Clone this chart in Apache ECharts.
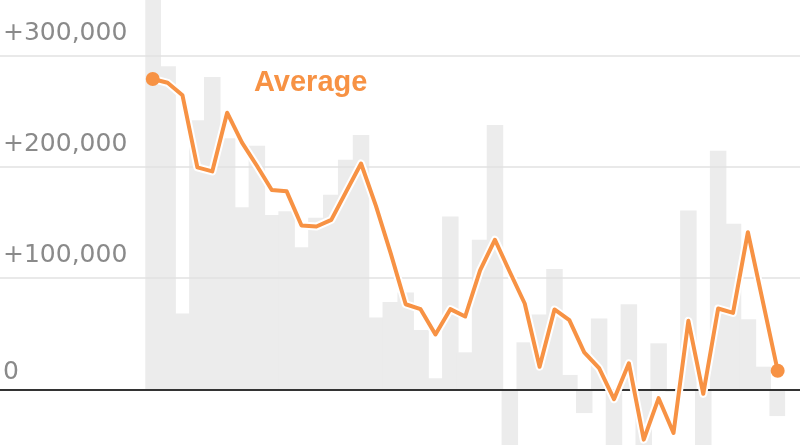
<!DOCTYPE html>
<html>
<head>
<meta charset="utf-8">
<script src="https://cdn.jsdelivr.net/npm/echarts@6/dist/echarts.min.js"></script>
<style>
  html, body { margin: 0; padding: 0; background: #fff; }
  #chart { width: 800px; height: 445px; }
</style>
</head>
<body>
<div id="chart"></div>
<script>
// one category per bar / line point (no x labels are printed)
var categories = ['1', '2', '3', '4', '5', '6', '7', '8', '9', '10', '11', '12', '13', '14', '15',
  '16', '17', '18', '19', '20', '21', '22', '23', '24', '25', '26', '27', '28', '29', '30',
  '31', '32', '33', '34', '35', '36', '37', '38', '39', '40', '41', '42', '43'];

// gray bars
var barValues = [365000, 290500, 68200, 241900, 280700, 225800, 163700, 218900, 156800, 160100,
  127800, 154200, 175000, 206400, 228700, 64600, 78600, 87000, 53300, 10000,
  155300, 33300, 134500, 237700, -62000, 42300, 67300, 108200, 13000, -21300,
  63700, -70000, 76500, -60000, 41400, -2000, 160700, -66000, 214400, 148800,
  63100, 20400, -24000];

// orange "Average" line
var avgValues = [279000, 275600, 264300, 199500, 195900, 248700, 221800, 201000, 179200, 178000,
  147300, 146400, 152400, 177700, 203000, 165000, 122000, 76500, 72100, 49400,
  72100, 65500, 107000, 134500, 105500, 77200, 20400, 71800, 62200, 33300,
  19000, -8800, 23500, -45200, -7900, -39200, 61600, -4000, 72700, 68800,
  141300, 79200, 16800];

// y tick labels
var tickValues = [0, 100000, 200000, 300000];
var tickLabels = ['0', '+100,000', '+200,000', '+300,000'];

var orange = '#f79244';

(function() {
  var myChart = echarts.init(document.getElementById('chart'));

  var last = avgValues.length - 1;

  var option = {
    animation: false,
    backgroundColor: '#fff',
    grid: [
      // full width grid: grid lines, labels, zero line
      { left: 0, right: 0, top: 0, bottom: 0 },
      // bars and line
      { left: 145.3, right: 14.9, top: 0, bottom: 0 }
    ],
    xAxis: [
      {
        gridIndex: 0,
        type: 'value',
        min: 0,
        max: 1,
        z: 4,
        axisLine: { show: true, onZero: true, lineStyle: { color: '#333', width: 2 } },
        axisTick: { show: false },
        axisLabel: { show: false },
        splitLine: { show: false }
      },
      {
        gridIndex: 1,
        type: 'category',
        data: categories,
        show: false
      }
    ],
    yAxis: [
      {
        gridIndex: 0,
        type: 'value',
        min: -50000,
        max: 350000,
        interval: 50000,
        z: 3,
        axisLine: { show: false },
        axisTick: { show: false },
        // only every second split line (the 100,000 steps) is visible
        splitLine: { lineStyle: { color: ['rgba(0,0,0,0)', '#e2e2e2'], width: 1.5 } },
        axisLabel: {
          inside: true,
          margin: 3,
          color: '#8a8a8a',
          fontSize: 25,
          fontFamily: 'DejaVu Sans',
          verticalAlign: 'bottom',
          lineHeight: 45,
          formatter: function(v) {
            var k = tickValues.indexOf(v);
            if (k < 0) return '';
            if (v === 0) return '{z|' + tickLabels[k] + '}';
            return tickLabels[k];
          },
          rich: {
            z: { lineHeight: 33, fontSize: 25, color: '#8a8a8a', fontFamily: 'DejaVu Sans' }
          }
        }
      },
      {
        gridIndex: 1,
        type: 'value',
        min: -50000,
        max: 350000,
        interval: 50000,
        show: false
      }
    ],
    series: [
      {
        type: 'bar',
        xAxisIndex: 1,
        yAxisIndex: 1,
        data: barValues,
        barWidth: 16.5,
        silent: true,
        z: 1,
        itemStyle: { color: '#ececec' }
      },
      {
        // white halo under the line
        type: 'line',
        xAxisIndex: 1,
        yAxisIndex: 1,
        data: avgValues,
        symbol: 'none',
        silent: true,
        z: 5,
        lineStyle: { color: '#fff', width: 8, join: 'round' }
      },
      {
        type: 'line',
        xAxisIndex: 1,
        yAxisIndex: 1,
        data: avgValues,
        symbol: 'none',
        silent: true,
        z: 6,
        lineStyle: { color: orange, width: 4, join: 'round' }
      },
      {
        // end dots
        type: 'scatter',
        xAxisIndex: 1,
        yAxisIndex: 1,
        data: [[0, avgValues[0]], [last, avgValues[last]]],
        symbolSize: 14,
        silent: true,
        z: 7,
        itemStyle: { color: orange, opacity: 1 }
      }
    ],
    graphic: [
      {
        type: 'text',
        z: 10,
        style: {
          text: 'Average',
          x: 254,
          y: 82.5,
          fill: orange,
          font: 'bold 29px "Liberation Sans"',
          verticalAlign: 'middle'
        }
      }
    ]
  };

  myChart.setOption(option);
})();
</script>
</body>
</html>
